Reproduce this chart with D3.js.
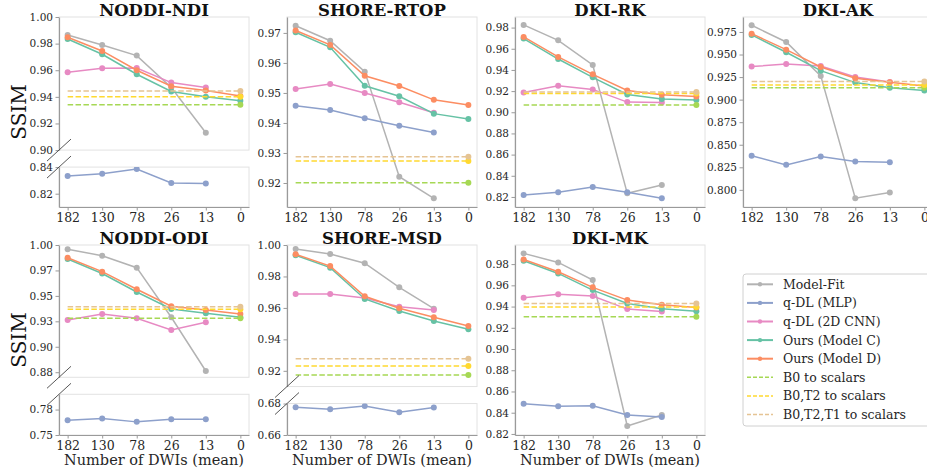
<!DOCTYPE html>
<html>
<head>
<meta charset="utf-8">
<script src="https://cdn.jsdelivr.net/npm/d3@7"></script>
<style>
  body { margin: 0; background: #fff; }
  text { font-family: "DejaVu Serif", serif; }
</style>
</head>
<body>
<svg id="chart" width="927" height="470"></svg>
<script>
const xLabels = ["182", "130", "78", "26", "13", "0"];
const seriesNames = ["Model-Fit", "q-DL (MLP)", "q-DL (2D CNN)", "Ours (Model C)", "Ours (Model D)"];
const baselineNames = ["B0 to scalars", "B0,T2 to scalars", "B0,T2,T1 to scalars"];
const seriesColors = ["#b3b3b3", "#8da0cb", "#e78ac3", "#66c2a5", "#fc8d62"];
const baselineColors = ["#a6d854", "#ffd92f", "#e5c494"];

// rows follow seriesNames, columns follow xLabels
const ndiValues = [
  [0.9865, 0.979, 0.971, 0.947, 0.913],
  [0.8333, 0.835, 0.8385, 0.828, 0.8277],
  [0.9585, 0.9615, 0.9617, 0.9507, 0.947],
  [0.9835, 0.972, 0.957, 0.944, 0.940, 0.937],
  [0.9848, 0.9745, 0.960, 0.948, 0.9447, 0.9407]
];
const ndiBaselines = [0.934, 0.940, 0.9443];

const rtopValues = [
  [0.9724, 0.9674, 0.9571, 0.9221, 0.9149],
  [0.9457, 0.9443, 0.9416, 0.9391, 0.9368],
  [0.9513, 0.953, 0.950, 0.9469, 0.9434],
  [0.9702, 0.9652, 0.9524, 0.9489, 0.9431, 0.9413],
  [0.9708, 0.966, 0.9557, 0.9523, 0.9477, 0.946]
];
const rtopBaselines = [0.9201, 0.9273, 0.9287];

const rkValues = [
  [0.9825, 0.968, 0.9447, 0.8234, 0.8313],
  [0.8219, 0.8244, 0.8294, 0.8244, 0.8187],
  [0.9187, 0.9251, 0.9216, 0.9096, 0.9093],
  [0.9696, 0.9503, 0.933, 0.9168, 0.9125, 0.9115],
  [0.9712, 0.9523, 0.9358, 0.9206, 0.9166, 0.915]
];
const rkBaselines = [0.9068, 0.9178, 0.9191];

const akValues = [
  [0.9824, 0.9639, 0.9263, 0.7908, 0.797],
  [0.8377, 0.8277, 0.837, 0.8314, 0.8307],
  [0.9366, 0.9396, 0.9373, 0.9252, 0.9196],
  [0.9717, 0.9525, 0.9321, 0.9189, 0.9133, 0.910],
  [0.9731, 0.9554, 0.9362, 0.9237, 0.9193, 0.9152]
];
const akBaselines = [0.9133, 0.9163, 0.920];

const odiValues = [
  [0.9958, 0.9895, 0.9777, 0.929, 0.8762],
  [0.7645, 0.7662, 0.7629, 0.7655, 0.7655],
  [0.9263, 0.9322, 0.928, 0.9165, 0.924],
  [0.9862, 0.972, 0.9538, 0.9371, 0.9329, 0.929],
  [0.9875, 0.9738, 0.9565, 0.9398, 0.9361, 0.9322]
];
const odiBaselines = [0.928, 0.9368, 0.9394];

const msdValues = [
  [0.9975, 0.9943, 0.9884, 0.9731, 0.9595],
  [0.6777, 0.6764, 0.6785, 0.6745, 0.6775],
  [0.9688, 0.9688, 0.9663, 0.9608, 0.9587],
  [0.9935, 0.9856, 0.9657, 0.958, 0.9517, 0.9464],
  [0.9941, 0.9866, 0.9674, 0.9598, 0.954, 0.9485]
];
const msdBaselines = [0.9174, 0.9231, 0.9277];

const mkValues = [
  [0.9901, 0.9816, 0.965, 0.8275, 0.8379],
  [0.8485, 0.846, 0.8466, 0.8379, 0.836],
  [0.9483, 0.9515, 0.9499, 0.9376, 0.9353],
  [0.9831, 0.9712, 0.9555, 0.9429, 0.9379, 0.9355],
  [0.9844, 0.9728, 0.9581, 0.9461, 0.9417, 0.9392]
];
const mkBaselines = [0.9303, 0.9395, 0.943];

// y ticks
const ndiTicksUp = [0.90, 0.92, 0.94, 0.96, 0.98, 1.00];
const ndiTicksLow = [0.82, 0.84];
const rtopTicks = [0.92, 0.93, 0.94, 0.95, 0.96, 0.97];
const rkTicks = [0.82, 0.84, 0.86, 0.88, 0.90, 0.92, 0.94, 0.96, 0.98];
const akTicks = [0.800, 0.825, 0.850, 0.875, 0.900, 0.925, 0.950, 0.975];
const odiTicksUp = [0.875, 0.900, 0.925, 0.950, 0.975, 1.000];
const odiTicksLow = [0.750, 0.775];
const msdTicksUp = [0.92, 0.94, 0.96, 0.98, 1.00];
const msdTicksLow = [0.66, 0.68];
const mkTicks = [0.82, 0.84, 0.86, 0.88, 0.90, 0.92, 0.94, 0.96, 0.98];

const panels = [
  { title: "NODDI-NDI", col: 0, row: 0, values: ndiValues, base: ndiBaselines, fmt: ".2f",
    parts: [{ domain: [0.90, 1.00], ticks: ndiTicksUp }, { domain: [0.81, 0.84], ticks: ndiTicksLow }] },
  { title: "SHORE-RTOP", col: 1, row: 0, values: rtopValues, base: rtopBaselines, fmt: ".2f",
    parts: [{ domain: [0.912, 0.9753], ticks: rtopTicks }] },
  { title: "DKI-RK", col: 2, row: 0, values: rkValues, base: rkBaselines, fmt: ".2f",
    parts: [{ domain: [0.8105, 0.990], ticks: rkTicks }] },
  { title: "DKI-AK", col: 3, row: 0, values: akValues, base: akBaselines, fmt: ".3f",
    parts: [{ domain: [0.781, 0.9916], ticks: akTicks }] },
  { title: "NODDI-ODI", col: 0, row: 1, values: odiValues, base: odiBaselines, fmt: ".2f",
    parts: [{ domain: [0.87, 1.00], ticks: odiTicksUp }, { domain: [0.75, 0.79], ticks: odiTicksLow }] },
  { title: "SHORE-MSD", col: 1, row: 1, values: msdValues, base: msdBaselines, fmt: ".2f",
    parts: [{ domain: [0.91, 1.00], ticks: msdTicksUp }, { domain: [0.66, 0.68], ticks: msdTicksLow }] },
  { title: "DKI-MK", col: 2, row: 1, values: mkValues, base: mkBaselines, fmt: ".2f",
    parts: [{ domain: [0.819, 0.998], ticks: mkTicks }] }
];

const colX = [59, 287, 515, 743];
const rowY = [17, 245];
const plotW = 190, plotH = 190, gap = 17;
const spineColor = "#9a9a9a", frameColor = "#e2e2e2";

const svg = d3.select("#chart");
const defs = svg.append("defs");
let clipId = 0;

panels.forEach(p => {
  const x0 = colX[p.col], y0 = rowY[p.row];
  const x = d3.scalePoint().domain(xLabels).range([x0, x0 + plotW]).padding(0.25);
  const total = d3.sum(p.parts, q => q.domain[1] - q.domain[0]);
  const avail = plotH - gap * (p.parts.length - 1);
  const g = svg.append("g");
  let top = y0;
  const bounds = [];

  p.parts.forEach((part, i) => {
    const h = avail * (part.domain[1] - part.domain[0]) / total;
    const y = d3.scaleLinear().domain(part.domain).range([top + h, top]);
    bounds.push([top, top + h]);

    g.append("rect")
      .attr("x", x0).attr("y", top).attr("width", plotW).attr("height", h)
      .attr("fill", "none").attr("stroke", frameColor).attr("stroke-width", 1);

    const id = "clip" + (clipId++);
    defs.append("clipPath").attr("id", id)
      .append("rect").attr("x", x0).attr("y", top).attr("width", plotW).attr("height", h);
    const plot = g.append("g").attr("clip-path", `url(#${id})`);

    const line = d3.line().x((d, j) => x(xLabels[j])).y(d => y(d));

    p.values.forEach((vals, k) => {
      plot.append("path").datum(vals)
        .attr("d", line).attr("fill", "none")
        .attr("stroke", seriesColors[k]).attr("stroke-width", 1.5);
      plot.selectAll(null).data(vals).join("circle")
        .attr("cx", (d, j) => x(xLabels[j])).attr("cy", d => y(d))
        .attr("r", 3).attr("fill", seriesColors[k]);
    });

    p.base.forEach((b, k) => {
      plot.append("line")
        .attr("x1", x(xLabels[0])).attr("x2", x(xLabels[5]))
        .attr("y1", y(b)).attr("y2", y(b))
        .attr("stroke", baselineColors[k]).attr("stroke-width", 1.5)
        .attr("stroke-dasharray", "5.5,2.4");
      plot.append("circle")
        .attr("cx", x(xLabels[5])).attr("cy", y(b))
        .attr("r", 3).attr("fill", baselineColors[k]);
    });

    const yAxis = g.append("g")
      .attr("transform", `translate(${x0},0)`)
      .call(d3.axisLeft(y).tickValues(part.ticks).tickFormat(d3.format(p.fmt))
        .tickSize(3.5).tickSizeOuter(0).tickPadding(2.5));
    yAxis.select(".domain").attr("stroke", spineColor).attr("stroke-width", 1.2);
    yAxis.selectAll(".tick line").attr("stroke", spineColor);
    yAxis.selectAll("text").attr("fill", "#262626").style("font-size", "10.5px")
      .style("font-family", "DejaVu Serif");

    if (i === p.parts.length - 1) {
      const xAxis = g.append("g")
        .attr("transform", `translate(0,${top + h})`)
        .call(d3.axisBottom(x).tickSize(3.5).tickSizeOuter(0).tickPadding(2.5));
      xAxis.select(".domain").attr("stroke", spineColor).attr("stroke-width", 1.2);
      xAxis.selectAll(".tick line").attr("stroke", spineColor);
      xAxis.selectAll("text").attr("fill", "#262626").style("font-size", "12.5px")
        .style("font-family", "DejaVu Serif");
    }
    top += h + gap;
  });

  // break marks
  for (let i = 0; i < bounds.length - 1; i++) {
    [bounds[i][1], bounds[i + 1][0]].forEach(yy => {
      g.append("line")
        .attr("x1", x0 - 12).attr("y1", yy + 11)
        .attr("x2", x0 + 12).attr("y2", yy - 11)
        .attr("stroke", "#444").attr("stroke-width", 0.9);
    });
  }

  g.append("text")
    .attr("x", x0 + plotW / 2).attr("y", y0 - 1)
    .attr("text-anchor", "middle")
    .style("font-size", "16.5px").style("font-weight", "bold")
    .attr("fill", "#111")
    .text(p.title);

  if (p.row === 1) {
    g.append("text")
      .attr("x", x0 + plotW / 2).attr("y", 465)
      .attr("text-anchor", "middle")
      .style("font-size", "14.5px").attr("fill", "#262626")
      .text("Number of DWIs (mean)");
  }
  if (p.col === 0) {
    g.append("text")
      .attr("transform", `translate(26,${y0 + plotH / 2}) rotate(-90)`)
      .attr("text-anchor", "middle")
      .style("font-size", "20px").attr("fill", "#111")
      .text("SSIM");
  }
});

// legend
const legend = svg.append("g");
legend.append("rect")
  .attr("x", 743).attr("y", 274).attr("width", 200).attr("height", 152)
  .attr("rx", 3).attr("fill", "#fff").attr("stroke", "#d0d0d0");
const legendItems = seriesNames.map((n, k) => ({ name: n, color: seriesColors[k], dashed: false }))
  .concat(baselineNames.map((n, k) => ({ name: n, color: baselineColors[k], dashed: true })));
legendItems.forEach((d, k) => {
  const yy = 284.3 + k * 18.6;
  legend.append("line")
    .attr("x1", 747).attr("x2", 773).attr("y1", yy).attr("y2", yy)
    .attr("stroke", d.color).attr("stroke-width", d.dashed ? 1.5 : 2)
    .attr("stroke-dasharray", d.dashed ? "4,2" : null);
  if (!d.dashed) {
    legend.append("circle").attr("cx", 760).attr("cy", yy).attr("r", 2.2).attr("fill", d.color);
  }
  legend.append("text")
    .attr("x", 783).attr("y", yy + 4.5)
    .style("font-size", "12.5px").attr("fill", "#262626")
    .text(d.name);
});
</script>
</body>
</html>
